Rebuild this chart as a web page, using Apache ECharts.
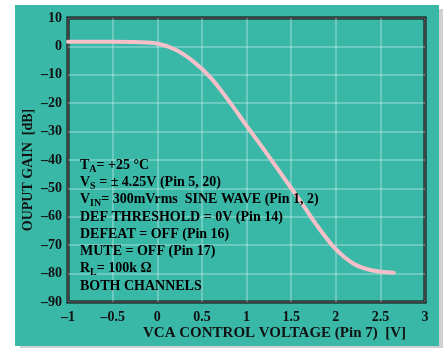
<!DOCTYPE html>
<html>
<head>
<meta charset="utf-8">
<script src="https://cdn.jsdelivr.net/npm/echarts@6/dist/echarts.min.js"></script>
<style>
  html, body { margin: 0; padding: 0; background: #fff; }
  #chart { width: 443px; height: 348px; }
</style>
</head>
<body>
<div id="chart"></div>
<script>
// curve: control voltage [V] vs output gain [dB]
const voltage = [-1, -0.5, -0.2, 0, 0.2, 0.4, 0.6, 0.8, 1.0, 1.2, 1.4, 1.6, 1.8, 2.0, 2.2, 2.4, 2.65];
const gain = [1.6, 1.6, 1.5, 1.0, -1.1, -5.2, -11.1, -19.1, -27.9, -36.5, -45.4, -54.3, -63.5, -71.4, -76.5, -78.8, -79.7];

const xTicks = [-1, -0.5, 0, 0.5, 1, 1.5, 2, 2.5, 3];
const yTicks = [-90, -80, -70, -60, -50, -40, -30, -20, -10, 0, 10];

const xName = 'VCA CONTROL VOLTAGE (Pin 7)  [V]';
const yName = 'OUPUT GAIN  [dB]';

// conditions block, {s|..} = subscript
const notes = [
    '{n|T}{s|A}{n|= +25 °C}',
    '{n|V}{s|S}{n| = ± 4.25V (Pin 5, 20)}',
    '{n|V}{s|IN}{n|= 300mVrms  SINE WAVE (Pin 1, 2)}',
    '{n|DEF THRESHOLD = 0V (Pin 14)}',
    '{n|DEFEAT = OFF (Pin 16)}',
    '{n|MUTE = OFF (Pin 17)}',
    '{n|R}{s|L}{n|= 100k Ω}',
    '{n|BOTH CHANNELS}'
];

const serif = '"Liberation Serif", "DejaVu Serif", serif';
const ink = '#111';
const fmt = v => String(v).replace('-', '–');

const chart = echarts.init(document.getElementById('chart'));

chart.setOption({
    animation: false,
    backgroundColor: '#fff',
    grid: {
        left: 68, top: 18, right: 18, bottom: 46,
        show: true,
        borderColor: '#000',
        borderWidth: 3,
        backgroundColor: 'transparent'
    },
    xAxis: {
        type: 'value',
        min: xTicks[0],
        max: xTicks[xTicks.length - 1],
        interval: 0.5,
        axisLine: { show: false },
        axisTick: { show: false },
        axisLabel: {
            margin: 8,
            color: ink,
            fontFamily: serif,
            fontWeight: 'bold',
            fontSize: 14,
            formatter: fmt
        },
        splitLine: { lineStyle: { color: 'rgba(255,255,255,0.35)', width: 1.5 } }
    },
    yAxis: {
        type: 'value',
        min: yTicks[0],
        max: yTicks[yTicks.length - 1],
        interval: 10,
        axisLine: { show: false },
        axisTick: { show: false },
        axisLabel: {
            margin: 6,
            color: ink,
            fontFamily: serif,
            fontWeight: 'bold',
            fontSize: 14,
            formatter: fmt
        },
        splitLine: { lineStyle: { color: 'rgba(255,255,255,0.35)', width: 1.5 } }
    },
    graphic: [
        // page shadow + teal panel
        { type: 'rect', z: -10, silent: true, shape: { x: 20, y: 9, width: 423, height: 339 }, style: { fill: '#d0d0d0' } },
        { type: 'rect', z: -9, silent: true, shape: { x: 15, y: 5, width: 424, height: 341 }, style: { fill: '#39b8a8' } },
        {
            type: 'text', left: 143, top: 326, z: 10,
            style: { text: xName, fill: ink, font: 'bold 15px ' + serif }
        },
        {
            type: 'text', x: 28, y: 170, rotation: Math.PI / 2, z: 10,
            style: { text: yName, fill: ink, font: 'bold 14px ' + serif, align: 'center', verticalAlign: 'middle' }
        },
        {
            type: 'text', left: 80, top: 156, z: 10,
            style: {
                text: notes.join('\n'),
                rich: {
                    n: { fontFamily: serif, fontWeight: 'bold', fontSize: 14, color: ink, lineHeight: 17.3 },
                    s: { fontFamily: serif, fontWeight: 'bold', fontSize: 10, color: ink, lineHeight: 17.3, padding: [8, 0, 0, 0] }
                }
            }
        }
    ],
    series: [{
        type: 'line',
        data: voltage.map((v, i) => [v, gain[i]]),
        smooth: 0.35,
        showSymbol: false,
        lineStyle: { color: '#f7c0c8', width: 4, cap: 'round' }
    }]
});
</script>
</body>
</html>
